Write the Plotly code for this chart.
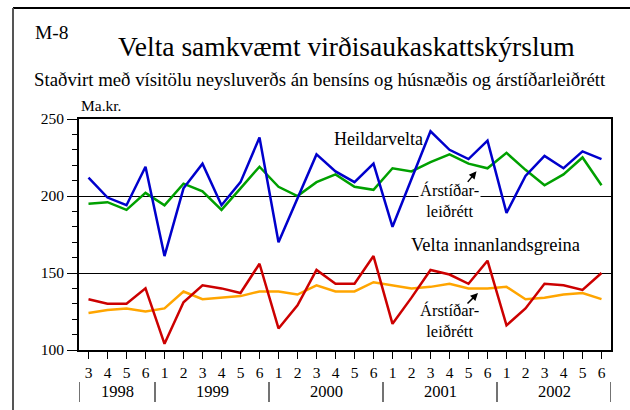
import plotly.graph_objects as go

periods = ["3", "4", "5", "6"] + ["1", "2", "3", "4", "5", "6"] * 4
years = ["1998", "1999", "2000", "2001", "2002"]
year_len = [4, 6, 6, 6, 6]

heildarvelta = [212, 199, 194, 219, 161, 205, 221, 194, 209, 238, 170, 199, 227, 216,
                209, 221, 180, 211, 242, 230, 224, 236, 189, 213, 226, 218, 229, 224]
heildarvelta_sa = [195, 196, 191, 202, 194, 208, 203, 191, 205, 219, 206, 200, 209, 214,
                   206, 204, 218, 216, 222, 227, 221, 218, 228, 217, 207, 214, 225, 207]
innanlands = [133, 130, 130, 140, 104, 131, 142, 140, 137, 156, 114, 129, 152, 143,
              143, 161, 117, 134, 152, 149, 143, 158, 116, 127, 143, 142, 139, 150]
innanlands_sa = [124, 126, 127, 125, 127, 138, 133, 134, 135, 138, 138, 136, 142, 138,
                 138, 144, 142, 140, 141, 143, 140, 140, 141, 133, 134, 136, 137, 133]

x = list(range(len(periods)))
FONT = "Liberation Serif, Times New Roman, DejaVu Serif, serif"

fig = go.Figure()
for ys, col in [(heildarvelta_sa, "#00A000"), (heildarvelta, "#0000CC"),
                (innanlands_sa, "#FFA500"), (innanlands, "#CC0000")]:
    fig.add_trace(go.Scatter(x=x, y=ys, mode="lines", line=dict(color=col, width=2.5),
                             showlegend=False, hoverinfo="skip"))

def px(v):
    return (v - 79) / 532

def py(v):
    return (350 - v) / 231

def txt(text, xx, yy, size, xref="paper", yref="paper", **kw):
    d = dict(text=text, x=xx, y=yy, xref=xref, yref=yref, showarrow=False,
             xanchor="center", yanchor="middle",
             font=dict(size=size, family=FONT, color="black"))
    d.update(kw)
    return d

ann = []
ann.append(txt("M-8", px(52), py(33), 19.5))
ann.append(txt("Velta samkvæmt virðisaukaskattskýrslum", px(346), py(47), 27.5))
ann.append(txt("Staðvirt með vísitölu neysluverðs án bensíns og húsnæðis og árstíðarleiðrétt",
               px(320), py(79), 18.8))
ann.append(txt("Ma.kr.", px(101), py(105), 15.5))
ann.append(txt("Heildarvelta", 15.25, 236.8, 18, xref="x", yref="y"))
ann.append(txt("Velta innanlandsgreina", 21.44, 168.3, 18.5, xref="x", yref="y"))
for yy in [197, 118.7]:
    ann.append(txt("Árstíðar-<br>leiðrétt", 19.0, yy, 16.5, xref="x", yref="y", bgcolor="white"))
ann.append(dict(text="", x=20.42, y=216, ax=-10, ay=12, showarrow=True, arrowhead=2,
                arrowsize=1, arrowwidth=1.5, arrowcolor="black"))
ann.append(dict(text="", x=20.5, y=137, ax=-12, ay=12, showarrow=True, arrowhead=2,
                arrowsize=1, arrowwidth=1.5, arrowcolor="black"))

shapes = []
start = -0.5
seps = [start]
for yr, n in zip(years, year_len):
    ann.append(txt(yr, start + n / 2, py(391), 16.5, xref="x"))
    start += n
    seps.append(start)
for s in seps:
    shapes.append(dict(type="line", x0=s, x1=s, y0=py(382), y1=py(402), xref="x", yref="paper",
                       line=dict(color="#444444", width=1.5)))
shapes.append(dict(type="line", x0=px(13), x1=px(632), y0=py(8), y1=py(8), xref="paper",
                   yref="paper", line=dict(color="black", width=2)))
shapes.append(dict(type="line", x0=px(13), x1=px(13), y0=py(8), y1=py(412), xref="paper",
                   yref="paper", line=dict(color="#555555", width=2)))

fig.update_layout(
    width=630, height=410,
    margin=dict(l=79, r=19, t=119, b=60),
    paper_bgcolor="white", plot_bgcolor="white",
    annotations=ann, shapes=shapes,
    xaxis=dict(range=[-0.5, 27.5], tickvals=x, ticktext=periods, ticks="outside", ticklen=7,
               tickcolor="black", showgrid=False, zeroline=False, showline=True, mirror=True,
               linecolor="black", linewidth=2, tickfont=dict(size=15.5, family=FONT, color="black")),
    yaxis=dict(range=[100, 250], tickvals=[100, 150, 200, 250], ticks="outside", ticklen=10,
               tickcolor="black", showgrid=True, gridcolor="black", gridwidth=1, zeroline=False,
               showline=True, mirror=True, linecolor="black", linewidth=2,
               tickfont=dict(size=15.5, family=FONT, color="black"),
               minor=dict(dtick=10, tick0=100, ticks="outside", ticklen=5, tickcolor="black",
                          showgrid=False)),
)

fig.write_html("out.html", config={"displayModeBar": False},
               post_script="document.body.style.margin='0';document.body.style.overflow='hidden';")
